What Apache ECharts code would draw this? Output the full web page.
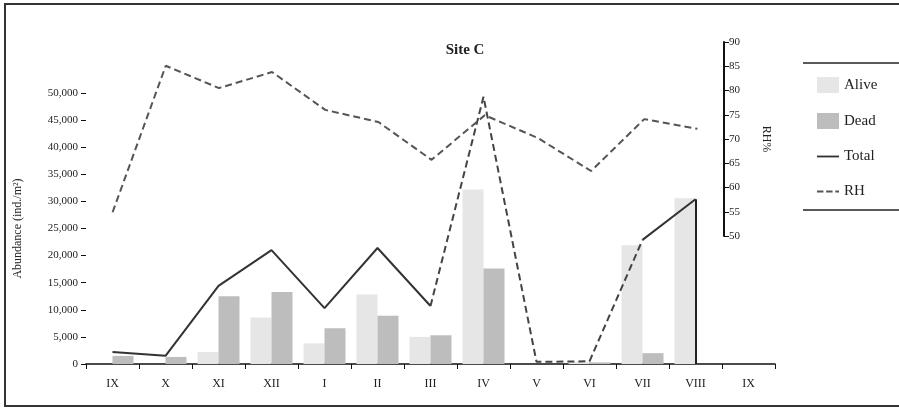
<!DOCTYPE html>
<html>
<head>
<meta charset="utf-8">
<script src="https://cdn.jsdelivr.net/npm/echarts@6/dist/echarts.min.js"></script>
<style>html,body{margin:0;padding:0;background:#fff}#c{width:899px;height:410px}</style>
</head>
<body>
<div id="c"></div>
<script>
// ---- data ----
const categories = ["IX","X","XI","XII","I","II","III","IV","V","VI","VII","VIII","IX"];
const aliveValues = [null, null, 2200, 8600, 3800, 12800, 5000, 32200, null, 400, 21900, 30600, null];
const deadValues  = [1500, 1300, 12500, 13300, 6600, 8900, 5300, 17600, null, 300, 2000, null, null];
const totalValues = [2200, 1500, 14400, 21000, 10300, 21400, 10700, 49300, 400, 500, 22900, 30400];
const rhValues    = [54.9, 85.1, 80.5, 83.8, 76.0, 73.5, 65.7, 74.9, 70.2, 63.4, 74.1, 72.1];
const leftTicks = [0, 50000, 5000];
const rightTicks = [50, 90, 5];
const dashedStart = 6, dashedEnd = 10;

const solidTotal = totalValues.map((v, i) => (i <= dashedStart || i >= dashedEnd) ? v : null);
const dashedTotal = totalValues.map((v, i) => (i >= dashedStart && i <= dashedEnd) ? v : null);

const F = '"Liberation Serif", "DejaVu Serif", serif';
const chart = echarts.init(document.getElementById('c'));
chart.setOption({
  animation: false,
  backgroundColor: '#fff',
  title: { text: 'Site C', left: 460, top: 38, textAlign: 'center',
    textStyle: { fontFamily: F, fontSize: 15, fontWeight: 'bold', color: '#222' } },
  legend: {
    left: 812, top: 72, orient: 'vertical', itemGap: 20, itemWidth: 22, itemHeight: 16,
    data: [
      { name: 'Alive', icon: 'rect' },
      { name: 'Dead', icon: 'rect' },
      { name: 'Total', icon: 'path://M0,0H24V2H0Z' },
      { name: 'RH', icon: 'path://M0,0H7V2H0Z M10,0H17V2H10Z M20,0H24V2H20Z' }
    ],
    textStyle: { fontFamily: F, fontSize: 15, color: '#222' }
  },
  graphic: [
    { type: 'rect', shape: { x: 5, y: 4, width: 910, height: 402 }, style: { fill: 'none', stroke: '#333', lineWidth: 2 }, silent: true },
    { type: 'line', shape: { x1: 803, y1: 63, x2: 899, y2: 63 }, style: { stroke: '#222', lineWidth: 1.5 } },
    { type: 'line', shape: { x1: 803, y1: 210, x2: 899, y2: 210 }, style: { stroke: '#222', lineWidth: 1.5 } }
  ],
  grid: [
    { left: 86, right: 124, top: 93, bottom: 46 },
    { left: 86, right: 175, top: 42, bottom: 174 }
  ],
  xAxis: [
    { type: 'category', gridIndex: 0, data: categories,
      axisLine: { lineStyle: { color: '#111', width: 1.5 } },
      axisTick: { show: true, length: 5, lineStyle: { color: '#111' } },
      axisLabel: { fontFamily: F, fontSize: 12, color: '#222', margin: 14 } },
    { type: 'category', gridIndex: 1, data: categories.slice(0, totalValues.length), show: false }
  ],
  yAxis: [
    { type: 'value', gridIndex: 0, min: leftTicks[0], max: leftTicks[1], interval: leftTicks[2],
      name: 'Abundance (ind./m²)', nameLocation: 'middle', nameGap: 62,
      nameTextStyle: { fontFamily: F, fontSize: 12, color: '#222' },
      axisLine: { show: false }, axisTick: { show: true, length: 5, lineStyle: { color: '#111' } },
      splitLine: { show: false },
      axisLabel: { fontFamily: F, fontSize: 11, color: '#222', margin: 8,
        formatter: v => v.toLocaleString('en-US') } },
    { type: 'value', gridIndex: 1, position: 'right', min: rightTicks[0], max: rightTicks[1], interval: rightTicks[2],
      name: 'RH%', nameLocation: 'middle', nameGap: 36, nameRotate: -90,
      nameTextStyle: { fontFamily: F, fontSize: 12, color: '#222' },
      axisLine: { show: true, lineStyle: { color: '#111', width: 2 } },
      axisTick: { show: true, length: 5, inside: false, lineStyle: { color: '#111' } },
      splitLine: { show: false },
      axisLabel: { fontFamily: F, fontSize: 11, color: '#222', margin: 5 } }
  ],
  series: [
    { name: 'Alive', type: 'bar', xAxisIndex: 0, yAxisIndex: 0, data: aliveValues,
      barWidth: 21, barGap: '0%', itemStyle: { color: '#e6e6e6' } },
    { name: 'Dead', type: 'bar', xAxisIndex: 0, yAxisIndex: 0, data: deadValues,
      barWidth: 21, barGap: '0%', itemStyle: { color: '#bdbdbd' } },
    { name: 'Total', type: 'line', xAxisIndex: 0, yAxisIndex: 0, data: solidTotal,
      symbol: 'none', connectNulls: false, lineStyle: { color: '#333', width: 2 }, itemStyle: { color: '#333' },
      markLine: { symbol: 'none', silent: true, label: { show: false },
        lineStyle: { color: '#222', width: 2, type: 'solid' },
        data: [[{ xAxis: totalValues.length - 1, yAxis: 0 }, { xAxis: totalValues.length - 1, yAxis: totalValues[totalValues.length - 1] }]] } },
    { name: 'Total-dashed', type: 'line', xAxisIndex: 0, yAxisIndex: 0, data: dashedTotal,
      symbol: 'none', connectNulls: false, lineStyle: { color: '#444', width: 2, type: [7, 4] } },
    { name: 'RH', type: 'line', xAxisIndex: 1, yAxisIndex: 1, data: rhValues,
      symbol: 'none', lineStyle: { color: '#555', width: 2, type: [7, 4] }, itemStyle: { color: '#555' } }
  ]
});
</script>
</body>
</html>
